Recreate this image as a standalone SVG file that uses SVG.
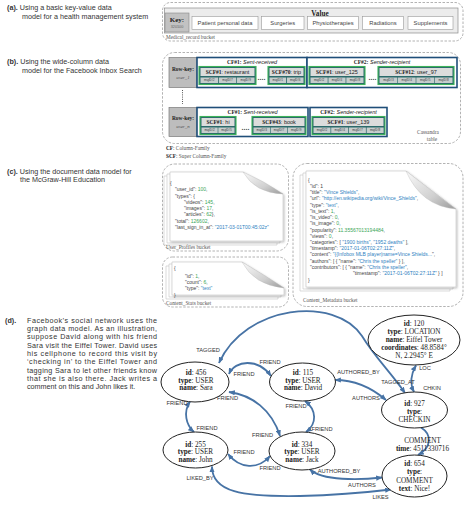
<svg xmlns="http://www.w3.org/2000/svg" width="474" height="505" viewBox="0 0 474 505">
<defs>
<style>
.ti{font-family:"Liberation Sans",Arial,sans-serif;font-size:7.2px;fill:#333}
.b{font-weight:bold}
.it{font-style:italic}
.sf{font-family:"Liberation Serif","Times New Roman",serif}
.ss{font-family:"Liberation Sans",Arial,sans-serif}
.dash{fill:none;stroke:#a0a0a0;stroke-width:0.8;stroke-dasharray:2.5 1.5}
.vbox{fill:#ececec;stroke:#8c8c8c;stroke-width:0.7}
.cell{fill:#fff;stroke:#999;stroke-width:0.6}
.ct{font-family:"Liberation Sans",Arial,sans-serif;font-size:5.8px;fill:#444;text-anchor:middle}
.bl{font-family:"Liberation Serif","Times New Roman",serif;font-size:5.3px;fill:#555}
.rk{fill:#bdbdbd;stroke:#7a7a7a;stroke-width:0.7}
.cf{fill:#fff;stroke:#1f4e79;stroke-width:1.6}
.scf{fill:#2b6a6a;stroke:#3db35a;stroke-width:1.1}
.sh{fill:#dcdcdc}
.mc{fill:#c6cdcd}
.mt{font-family:"Liberation Sans",Arial,sans-serif;font-size:2.6px;fill:#333;text-anchor:middle}
.cft{font-size:5.5px;fill:#222;text-anchor:middle}
.dots{font-family:"Liberation Sans",Arial,sans-serif;font-size:7px;font-weight:bold;fill:#444;text-anchor:middle}
.js{font-family:"Liberation Sans",Arial,sans-serif;font-size:5px;fill:#444}
.n{fill:#3aa657}
.s{fill:#2f7fc1}
.pg{fill:#fff;stroke:#c4c4c4;stroke-width:0.6}
.curl{fill:url(#cg);stroke:#bbbbbb;stroke-width:0.4}
.edge{fill:none;stroke:#4773a5;stroke-width:1.8}
.both{marker-start:url(#ah);marker-end:url(#ah)}
.end{marker-end:url(#ah)}
.node{fill:#fff;stroke:#222;stroke-width:1}
.nt{font-family:"Liberation Serif","Times New Roman",serif;font-size:7.2px;fill:#222;text-anchor:middle}
.el{font-family:"Liberation Sans",Arial,sans-serif;font-size:5.7px;fill:#333;text-anchor:middle}
</style>
<marker id="ah" viewBox="0 0 10 8" refX="9" refY="4" markerWidth="6.5" markerHeight="5.2" markerUnits="userSpaceOnUse" orient="auto-start-reverse">
<path d="M0 0 L10 4 L0 8 Z" fill="#4773a5"/>
</marker>
<linearGradient id="cg" x1="0" y1="0" x2="1" y2="1">
<stop offset="0" stop-color="#fafafa"/>
<stop offset="0.6" stop-color="#d0d0d0"/>
<stop offset="1" stop-color="#9a9a9a"/>
</linearGradient>
<filter id="ds" x="-10%" y="-10%" width="125%" height="125%">
<feDropShadow dx="1" dy="1" stdDeviation="0.9" flood-color="#000" flood-opacity="0.28"/>
</filter>
</defs>
<rect width="474" height="505" fill="#fff"/>

<!-- Section titles -->
<g id="titles">
<text class="ti" x="7" y="10"><tspan class="b">(a).</tspan> Using a basic key-value data</text>
<text class="ti" x="22" y="19">model for a health management system</text>
<text class="ti" x="7" y="63.5"><tspan class="b">(b).</tspan> Using the wide-column data</text>
<text class="ti" x="22" y="72.5">model for the Facebook Inbox Search</text>
<text class="ti" x="7" y="173.5"><tspan class="b">(c).</tspan> Using the document data model for</text>
<text class="ti" x="20" y="182">the McGraw-Hill Education</text>
<text class="ti b" x="5" y="322.5">(d).</text>
<text class="ti" x="27" y="322.5" textLength="130" lengthAdjust="spacing">Facebook’s social network uses the</text>
<text class="ti" x="27" y="331" textLength="130" lengthAdjust="spacing">graph data model. As an illustration,</text>
<text class="ti" x="27" y="339.3" textLength="130" lengthAdjust="spacing">suppose David along with his friend</text>
<text class="ti" x="27" y="347.6" textLength="130" lengthAdjust="spacing">Sara visit the Eiffel Tower. David uses</text>
<text class="ti" x="27" y="355.9" textLength="130" lengthAdjust="spacing">his cellphone to record this visit by</text>
<text class="ti" x="27" y="364.2" textLength="130" lengthAdjust="spacing">‘checking in’ to the Eiffel Tower and</text>
<text class="ti" x="27" y="372.5" textLength="130" lengthAdjust="spacing">tagging Sara to let other friends know</text>
<text class="ti" x="27" y="380.8" textLength="130" lengthAdjust="spacing">that she is also there. Jack writes a</text>
<text class="ti" x="27" y="389.1">comment on this and John likes it.</text>
</g>

<!-- (a) key-value -->
<g id="kv-bucket">
<rect class="dash" x="162.5" y="2.5" width="300.5" height="38.5" rx="8"/>
<rect class="vbox" x="164.5" y="8" width="293.5" height="25"/>
<rect x="165" y="13" width="24" height="19" fill="#c2c2c2" stroke="#888" stroke-width="0.6"/>
<text class="sf b" x="177" y="22" font-size="7px" fill="#222" text-anchor="middle">Key:</text>
<text class="ss" x="177" y="27.8" font-size="3.8px" fill="#666" text-anchor="middle">320100</text>
<text class="sf b" x="320" y="16" font-size="7.2px" fill="#222" text-anchor="middle">Value</text>
<rect class="cell" x="192" y="16.5" width="66" height="13"/>
<text class="ct" x="225" y="25">Patient personal data</text>
<rect class="cell" x="261.5" y="16.5" width="42.5" height="13"/>
<text class="ct" x="282.7" y="25">Surgeries</text>
<rect class="cell" x="307.5" y="16.5" width="51" height="13"/>
<text class="ct" x="333" y="25">Physiotherapies</text>
<rect class="cell" x="362.5" y="16.5" width="41" height="13"/>
<text class="ct" x="383" y="25">Radiations</text>
<rect class="cell" x="408" y="16.5" width="45" height="13"/>
<text class="ct" x="430.5" y="25">Supplements</text>
<text class="bl" x="166" y="39.3">Medical_record bucket</text>
</g>

<!-- (b) wide-column -->
<g id="cassandra-table">
<rect class="dash" x="162.5" y="52.5" width="298" height="91" rx="12"/>
<text class="bl" x="428" y="134" text-anchor="middle">Cassandra</text>
<text class="bl" x="432" y="141" text-anchor="middle">table</text>
<line x1="182.5" y1="90" x2="182.5" y2="104" stroke="#555" stroke-width="1" stroke-dasharray="1 1.2"/>
<text class="bl" x="166" y="150"><tspan class="b" fill="#222">CF</tspan>: Column-Family</text>
<text class="bl" x="166" y="157.5"><tspan class="b" fill="#222">SCF</tspan>: Super Column-Family</text>
</g>

<g id="row-1">
<rect class="rk" x="169" y="57.5" width="28" height="30"/>
<text class="sf b" x="183" y="70.5" font-size="5.4px" fill="#222" text-anchor="middle">Row-key:</text>
<text class="sf it" x="183" y="78.5" font-size="5px" fill="#555" text-anchor="middle">user_1</text>
<rect class="cf" x="197" y="57.5" width="110" height="30"/>
<text class="cft" x="252" y="63.8"><tspan class="sf b">CF#1:</tspan><tspan class="ss it"> Sent-received</tspan></text>
<rect class="cf" x="307" y="57.5" width="150" height="30"/>
<text class="cft" x="382" y="63.8"><tspan class="sf b">CF#2:</tspan><tspan class="ss it"> Sender-recipient</tspan></text>
<!-- SCF A -->
<rect class="scf" x="199" y="66.5" width="57" height="18"/>
<rect class="sh" x="200.5" y="68" width="54" height="8"/>
<text class="cft" x="227.5" y="74.2"><tspan class="sf b">SCF#1</tspan><tspan class="ss">: restaurant</tspan></text>
<rect class="mc" x="200.5" y="77.5" width="17.5" height="5.5"/><text class="mt" x="209.2" y="81.2">msgID#2</text>
<rect class="mc" x="218.8" y="77.5" width="17.5" height="5.5"/><text class="mt" x="227.5" y="81.2">msgID#7</text>
<rect class="mc" x="237" y="77.5" width="17.5" height="5.5"/><text class="mt" x="245.7" y="81.2">msgID#9</text>
<text class="dots" x="261.5" y="80">....</text>
<!-- SCF B -->
<rect class="scf" x="268" y="66.5" width="37" height="18"/>
<rect class="sh" x="269.5" y="68" width="34" height="8"/>
<text class="cft" x="286.5" y="74.2"><tspan class="sf b">SCF#70</tspan><tspan class="ss">: trip</tspan></text>
<rect class="mc" x="269.5" y="77.5" width="16.6" height="5.5"/><text class="mt" x="277.8" y="81.2">msgID#1</text>
<rect class="mc" x="286.9" y="77.5" width="16.6" height="5.5"/><text class="mt" x="295.2" y="81.2">msgID#6</text>
<!-- SCF C -->
<rect class="scf" x="309" y="66.5" width="56" height="18"/>
<rect class="sh" x="310.5" y="68" width="53" height="8"/>
<text class="cft" x="337" y="74.2"><tspan class="sf b">SCF#1</tspan><tspan class="ss">: user_125</tspan></text>
<rect class="mc" x="310.5" y="77.5" width="17.2" height="5.5"/><text class="mt" x="319.1" y="81.2">msgID#2</text>
<rect class="mc" x="328.4" y="77.5" width="17.2" height="5.5"/><text class="mt" x="337" y="81.2">msgID#4</text>
<rect class="mc" x="346.3" y="77.5" width="17.2" height="5.5"/><text class="mt" x="354.9" y="81.2">msgID#8</text>
<text class="dots" x="372.5" y="80">....</text>
<!-- SCF D -->
<rect class="scf" x="378" y="66.5" width="76" height="18"/>
<rect class="sh" x="379.5" y="68" width="73" height="8"/>
<text class="cft" x="416" y="74.2"><tspan class="sf b">SCF#12</tspan><tspan class="ss">: user_97</tspan></text>
<rect class="mc" x="379.5" y="77.5" width="17.8" height="5.5"/><text class="mt" x="388.4" y="81.2">msgID#3</text>
<rect class="mc" x="397.9" y="77.5" width="17.8" height="5.5"/><text class="mt" x="406.8" y="81.2">msgID#4</text>
<rect class="mc" x="416.3" y="77.5" width="17.8" height="5.5"/><text class="mt" x="425.2" y="81.2">msgID#5</text>
<rect class="mc" x="434.7" y="77.5" width="17.8" height="5.5"/><text class="mt" x="443.6" y="81.2">msgID#8</text>
</g>

<g id="row-n">
<rect class="rk" x="169" y="107.5" width="28" height="29"/>
<text class="sf b" x="183" y="119.5" font-size="5.4px" fill="#222" text-anchor="middle">Row-key:</text>
<text class="sf it" x="183" y="127.5" font-size="5px" fill="#555" text-anchor="middle">user_n</text>
<rect class="cf" x="197" y="107.5" width="111" height="29"/>
<text class="cft" x="252.5" y="113.8"><tspan class="sf b">CF#1:</tspan><tspan class="ss it"> Sent-received</tspan></text>
<rect class="cf" x="310" y="107.5" width="77" height="29"/>
<text class="cft" x="348.5" y="113.8"><tspan class="sf b">CF#2:</tspan><tspan class="ss it"> Sender-recipient</tspan></text>
<!-- SCF E -->
<rect class="scf" x="200" y="116.5" width="36" height="18"/>
<rect class="sh" x="201.5" y="118" width="33" height="8"/>
<text class="cft" x="218" y="124.2"><tspan class="sf b">SCF#1</tspan><tspan class="ss">: hi</tspan></text>
<rect class="mc" x="201.5" y="127.5" width="16.2" height="5.5"/><text class="mt" x="209.6" y="131.2">msgID#2</text>
<rect class="mc" x="218.3" y="127.5" width="16.2" height="5.5"/><text class="mt" x="226.4" y="131.2">msgID#5</text>
<text class="dots" x="245.5" y="130">....</text>
<!-- SCF F -->
<rect class="scf" x="252" y="116.5" width="54" height="18"/>
<rect class="sh" x="253.5" y="118" width="51" height="8"/>
<text class="cft" x="279" y="124.2"><tspan class="sf b">SCF#43</tspan><tspan class="ss">: book</tspan></text>
<rect class="mc" x="253.5" y="127.5" width="16.6" height="5.5"/><text class="mt" x="261.8" y="131.2">msgID#3</text>
<rect class="mc" x="270.7" y="127.5" width="16.6" height="5.5"/><text class="mt" x="279" y="131.2">msgID#7</text>
<rect class="mc" x="287.9" y="127.5" width="16.6" height="5.5"/><text class="mt" x="296.2" y="131.2">msgID#9</text>
<!-- SCF G -->
<rect class="scf" x="312" y="116.5" width="73" height="18"/>
<rect class="sh" x="313.5" y="118" width="70" height="8"/>
<text class="cft" x="348.5" y="124.2"><tspan class="sf b">SCF#1</tspan><tspan class="ss">: user_139</tspan></text>
<rect class="mc" x="313.5" y="127.5" width="17" height="5.5"/><text class="mt" x="322" y="131.2">msgID#2</text>
<rect class="mc" x="331.2" y="127.5" width="17" height="5.5"/><text class="mt" x="339.7" y="131.2">msgID#4</text>
<rect class="mc" x="348.9" y="127.5" width="17" height="5.5"/><text class="mt" x="357.4" y="131.2">msgID#7</text>
<rect class="mc" x="366.6" y="127.5" width="17" height="5.5"/><text class="mt" x="375.1" y="131.2">msgID#8</text>
</g>

<!-- (c) documents -->
<g id="user-profiles-bucket">
<rect class="dash" x="162.5" y="164" width="126" height="87" rx="12"/>
<path class="pg" d="M164 176 H237 L277 198 V245 H164 Z"/>
<path class="pg" d="M167 174 H240 L280 196 V243 H167 Z"/>
<path class="pg" filter="url(#ds)" d="M170 172 H243 L283 194 V241 H170 Z"/>
<path class="curl" d="M243 172 Q255 193 283 194 Q264 181 243 172 Z"/>
<text class="js" x="170" y="185">{</text>
<text class="js" x="175" y="191">"user_id": <tspan class="n">100</tspan>,</text>
<text class="js" x="175" y="198">"types": {</text>
<text class="js" x="184" y="204">"videos": <tspan class="n">145</tspan>,</text>
<text class="js" x="184" y="210">"images": <tspan class="n">17</tspan>,</text>
<text class="js" x="184" y="216">"articles": <tspan class="n">62</tspan>},</text>
<text class="js" x="175" y="222.5">"total": <tspan class="n">126602</tspan>,</text>
<text class="js" x="175" y="229">"last_sign_in_at": <tspan class="s">"2017-03-01T00:45:02z"</tspan></text>
<text class="bl" x="166" y="248.5">User_Profiles bucket</text>
</g>

<g id="content-stats-bucket">
<rect class="dash" x="162.5" y="257" width="126" height="50" rx="10"/>
<path class="pg" d="M166 266 H236 L278 292 V299 H166 Z"/>
<path class="pg" d="M169 264 H239 L281 290 V297 H169 Z"/>
<path class="pg" filter="url(#ds)" d="M172 262 H242 L284 288 V295 H172 Z"/>
<path class="curl" d="M242 262 Q254 285 284 288 Q266 276 242 262 Z"/>
<text class="js" x="174" y="270">{</text>
<text class="js" x="185" y="278">"id": <tspan class="n">1</tspan>,</text>
<text class="js" x="185" y="284">"count": <tspan class="n">6</tspan>,</text>
<text class="js" x="185" y="290">"type": <tspan class="s">"text"</tspan></text>
<text class="js" x="174" y="296.5">}</text>
<text class="bl" x="166" y="305">Content_Stats bucket</text>
</g>

<g id="content-metadata-bucket">
<rect class="dash" x="293" y="163.5" width="170" height="143" rx="14"/>
<path class="pg" d="M300 175 H400 L450 213 V291 H300 Z"/>
<path class="pg" d="M303 173 H403 L453 211 V289 H303 Z"/>
<path class="pg" filter="url(#ds)" d="M306 171 H406 L456 209 V287 H306 Z"/>
<path class="curl" d="M406 171 Q421 206 456 209 Q433 192 406 171 Z"/>
<text class="js" x="308" y="182">{</text>
<text class="js" x="310" y="188">"id": 1</text>
<text class="js" x="310" y="194.2">"title": <tspan class="s">"Vince Shields"</tspan>,</text>
<text class="js" x="310" y="200.4">"url": <tspan class="s">"http://en.wikipedia.org/wiki/Vince_Shields"</tspan>,</text>
<text class="js" x="310" y="206.6">"type": <tspan class="s">"text"</tspan>,</text>
<text class="js" x="310" y="212.8">"is_text": <tspan class="n">1</tspan>,</text>
<text class="js" x="310" y="219">"is_video": <tspan class="n">0</tspan>,</text>
<text class="js" x="310" y="225.2">"is_image": <tspan class="n">0</tspan>,</text>
<text class="js" x="310" y="231.6">"popularity": <tspan class="n">11.35567013194484</tspan>,</text>
<text class="js" x="310" y="237.8">"views": <tspan class="n">0</tspan>,</text>
<text class="js" x="310" y="244">"categories": [ <tspan class="s">"1900 births"</tspan>, <tspan class="s">"1952 deaths"</tspan> ],</text>
<text class="js" x="310" y="250.2">"timestamp": <tspan class="s">"2017-01-06T02:27:11Z"</tspan>,</text>
<text class="js" x="310" y="256.4">"content": <tspan class="s">"{{Infobox MLB player|name=Vince Shields...</tspan>",</text>
<text class="js" x="310" y="262.6">"authors": [ { "name": <tspan class="s">"Chris the speller"</tspan> } ],</text>
<text class="js" x="310" y="268.8">"contributors": [ { "name": <tspan class="s">"Chris the speller"</tspan>,</text>
<text class="js" x="353" y="275.2">"timestamp": <tspan class="s">"2017-01-06T02:27:11Z"</tspan> } ]</text>
<text class="js" x="308" y="282">}</text>
<text class="bl" x="303" y="301.5">Content_Metadata bucket</text>
</g>

<!-- (d) graph connectors -->
<g id="connectors">
<path class="edge both" d="M219 363 C245 305 335 295 362 336 C374 356 392 374 405 393"/>
<path class="edge both" d="M229 374 C235 360 258 358 271 376"/>
<path class="edge both" d="M229 392 C252 395 272 410 280 436"/>
<path class="edge both" d="M190 401.5 C183 412 186 425 194 432"/>
<path class="edge both" d="M305 401 C317 410 317 424 306 432"/>
<path class="edge both" d="M228 454 C240 469 258 470 270 456"/>
<path class="edge both" d="M335 380 C355 380 372 388 386 400"/>
<path class="edge both" d="M414 392 C409 382 411 374 416 365.5"/>
<path class="edge end" d="M421 427.5 C433 435 431 448 418 455"/>
<path class="edge both" d="M310 469.5 C322 481 360 480 382 477.5"/>
<path class="edge both" d="M212 466.5 C212 492 242 497 300 496 C340 495 370 492 391 489.5"/>
<text class="el" x="208" y="352">TAGGED</text>
<text class="el" x="398" y="384">TAGGED_AT</text>
<text class="el" x="425" y="370">LOC</text>
<text class="el" x="432" y="390.3">CHKIN</text>
<text class="el" x="270" y="363.7">FRIEND</text>
<text class="el" x="244" y="376">FRIEND</text>
<text class="el" x="358.5" y="373.7">AUTHORED_BY</text>
<text class="el" x="366" y="399.7">AUTHORS</text>
<text class="el" x="227.5" y="399.7">FRIEND</text>
<text class="el" x="177" y="405.3">FRIEND</text>
<text class="el" x="296" y="408">FRIEND</text>
<text class="el" x="207" y="430.3">FRIEND</text>
<text class="el" x="322" y="431.3">FRIEND</text>
<text class="el" x="262.5" y="437">FRIEND</text>
<text class="el" x="244" y="453.7">FRIEND</text>
<text class="el" x="270" y="470.3">FRIEND</text>
<text class="el" x="339" y="472.7">AUTHORED_BY</text>
<text class="el" x="362" y="487">AUTHORS</text>
<text class="el" x="200" y="480.3">LIKED_BY</text>
<text class="el" x="380.5" y="498.7">LIKES</text>
<text class="nt" x="422.5" y="443">COMMENT</text>
<text class="nt" x="422.5" y="450.5"><tspan font-weight="bold">time</tspan>: 4511330716</text>
</g>

<!-- (d) graph nodes -->
<g id="node-120">
<ellipse class="node" cx="414" cy="340" rx="46" ry="25"/>
<text class="nt" x="414" y="325.5"><tspan font-weight="bold">id</tspan>: 120</text>
<text class="nt" x="414" y="333.5"><tspan font-weight="bold">type</tspan>: LOCATION</text>
<text class="nt" x="414" y="341.5"><tspan font-weight="bold">name</tspan>: Eiffel Tower</text>
<text class="nt" x="414" y="349.5"><tspan font-weight="bold">coordinates</tspan>: 48.8584°</text>
<text class="nt" x="414" y="357.5">N, 2.2945° E</text>
</g>
<g id="node-456">
<ellipse class="node" cx="195" cy="382" rx="34" ry="20"/>
<text class="nt" x="196" y="375"><tspan font-weight="bold">id</tspan>: 456</text>
<text class="nt" x="196" y="382.7"><tspan font-weight="bold">type</tspan>: USER</text>
<text class="nt" x="196" y="390.4"><tspan font-weight="bold">name</tspan>: Sara</text>
</g>
<g id="node-115">
<ellipse class="node" cx="302.5" cy="382" rx="33" ry="19"/>
<text class="nt" x="303" y="375"><tspan font-weight="bold">id</tspan>: 115</text>
<text class="nt" x="303" y="382.7"><tspan font-weight="bold">type</tspan>: USER</text>
<text class="nt" x="303" y="390.4"><tspan font-weight="bold">name</tspan>: David</text>
</g>
<g id="node-927">
<ellipse class="node" cx="414.5" cy="410" rx="33" ry="18"/>
<text class="nt" x="414.5" y="405.5"><tspan font-weight="bold">id</tspan>: 927</text>
<text class="nt" x="414.5" y="413.5"><tspan font-weight="bold">type</tspan>:</text>
<text class="nt" x="414.5" y="421.5">CHECKIN</text>
</g>
<g id="node-255">
<ellipse class="node" cx="195.5" cy="450" rx="32.5" ry="18"/>
<text class="nt" x="195.5" y="446.5"><tspan font-weight="bold">id</tspan>: 255</text>
<text class="nt" x="195.5" y="454.2"><tspan font-weight="bold">type</tspan>: USER</text>
<text class="nt" x="195.5" y="461.9"><tspan font-weight="bold">name</tspan>: John</text>
</g>
<g id="node-334">
<ellipse class="node" cx="302" cy="451" rx="33" ry="19"/>
<text class="nt" x="302" y="446.5"><tspan font-weight="bold">id</tspan>: 334</text>
<text class="nt" x="302" y="454.2"><tspan font-weight="bold">type</tspan>: USER</text>
<text class="nt" x="302" y="461.9"><tspan font-weight="bold">name</tspan>: Jack</text>
</g>
<g id="node-654">
<ellipse class="node" cx="414.5" cy="476" rx="32.5" ry="21"/>
<text class="nt" x="414.5" y="465.8"><tspan font-weight="bold">id</tspan>: 654</text>
<text class="nt" x="414.5" y="474.2"><tspan font-weight="bold">type</tspan>:</text>
<text class="nt" x="414.5" y="482.5">COMMENT</text>
<text class="nt" x="414.5" y="490.8"><tspan font-weight="bold">text</tspan>: Nice!</text>
</g>
</svg>
